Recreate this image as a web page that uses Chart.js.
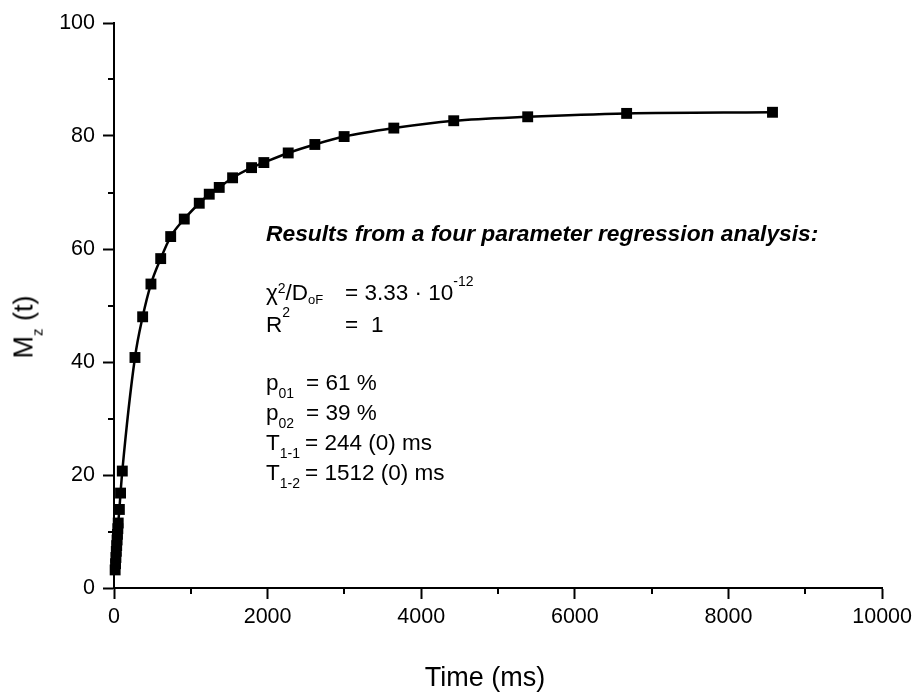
<!DOCTYPE html>
<html>
<head>
<meta charset="utf-8">
<script src="https://cdn.jsdelivr.net/npm/chart.js@4/dist/chart.umd.min.js"></script>
<style>
  body { margin: 0; background: #fff; }
  #wrap { position: relative; width: 917px; height: 694px; }
  #chart { position: absolute; left: 0; top: 0; }
  .txt { position: absolute; font-family: "Liberation Sans", Arial, sans-serif; color: #000; white-space: pre; }
  .note { font-size: 22.5px; line-height: 22.5px; }
  .title { font-size: 27px; line-height: 27px; }
  .sub, .sup { position: relative; font-size: 14px; line-height: 0; }
</style>
</head>
<body>
<div id="wrap">
  <canvas id="chart" width="917" height="694"></canvas>

  <div class="txt title" id="xTitle" style="left:485px; top:664px; transform:translateX(-50%);">Time (ms)</div>
  <div class="txt title" id="yTitle" style="left:24px; top:327px; transform:translate(-50%,-50%) rotate(-90deg);">M<span class="sub" style="font-size:15px; top:10px;">z</span> (t)</div>

  <div class="txt note" style="left:266px; top:222px; font-weight:bold; font-style:italic; font-size:22.8px;">Results from a four parameter regression analysis:</div>

  <div class="txt note" style="left:266px; top:282px;">χ<span class="sup" style="top:-7px;">2</span>/D<span class="sub" style="font-size:13px; top:4px;">oF</span></div>
  <div class="txt note" style="left:345px; top:282px;">= 3.33 · 10<span class="sup" style="top:-14px;">-12</span></div>

  <div class="txt note" style="left:266px; top:313.5px;">R<span class="sup" style="top:-15px;">2</span></div>
  <div class="txt note" style="left:345px; top:313.5px;">=</div>
  <div class="txt note" style="left:371px; top:313.5px;">1</div>

  <div class="txt note" style="left:266px; top:372px;">p<span class="sub" style="top:8px;">01</span></div>
  <div class="txt note" style="left:306px; top:372px;">= 61 %</div>

  <div class="txt note" style="left:266px; top:402px;">p<span class="sub" style="top:8px;">02</span></div>
  <div class="txt note" style="left:306px; top:402px;">= 39 %</div>

  <div class="txt note" style="left:266px; top:432px;">T<span class="sub" style="top:8px;">1-1</span></div>
  <div class="txt note" style="left:305px; top:432px;">= 244 (0) ms</div>

  <div class="txt note" style="left:266px; top:462px;">T<span class="sub" style="top:8px;">1-2</span></div>
  <div class="txt note" style="left:305px; top:462px;">= 1512 (0) ms</div>
</div>

<script>
const times = [15, 20, 25, 30, 35, 40, 45, 50, 55, 70, 85, 108,
               273, 373, 481, 608, 738, 915, 1110, 1240, 1370, 1544,
               1791, 1951, 2268, 2615, 2996, 3643, 4423, 5386, 6674, 8573];
const mz    = [3.2, 4.3, 5.4, 6.5, 7.5, 8.5, 9.5, 10.5, 11.5, 13.9, 16.8, 20.7,
               40.8, 48.0, 53.8, 58.3, 62.2, 65.3, 68.1, 69.7, 70.9, 72.6,
               74.4, 75.3, 77.0, 78.5, 79.9, 81.4, 82.7, 83.4, 84.0, 84.2];

// Axis ticks
const xMajor = [0, 2000, 4000, 6000, 8000, 10000];
const xMinor = [1000, 3000, 5000, 7000, 9000];
const yMajor = [0, 20, 40, 60, 80, 100];
const yMinor = [10, 30, 50, 70, 90];

const FONT = '"Liberation Sans", Arial, sans-serif';

// Short unlabeled ticks between the labeled ones
const minorTicks = {
  id: 'minorTicks',
  afterDraw(chart) {
    const { ctx, scales: { x, y } } = chart;
    ctx.save();
    ctx.strokeStyle = '#000';
    ctx.lineWidth = 2;
    ctx.beginPath();
    for (const v of xMinor) {
      const px = Math.round(x.getPixelForValue(v));
      ctx.moveTo(px, y.bottom);
      ctx.lineTo(px, y.bottom + 6);
    }
    for (const v of yMinor) {
      const py = Math.round(y.getPixelForValue(v));
      ctx.moveTo(x.left, py);
      ctx.lineTo(x.left - 6, py);
    }
    ctx.stroke();
    ctx.restore();
  },
};

new Chart(document.getElementById('chart'), {
  type: 'scatter',
  data: {
    datasets: [{
      label: 'M_z(t)',
      data: times.map((t, i) => ({ x: t, y: mz[i] })),
      showLine: true,
      cubicInterpolationMode: 'monotone',
      borderColor: '#000',
      borderWidth: 2.5,
      backgroundColor: '#000',
      pointStyle: 'rect',
      pointRadius: 7.7,
      pointBorderWidth: 0,
      clip: false,
    }],
  },
  options: {
    responsive: false,
    animation: false,
    devicePixelRatio: 1,
    layout: { padding: { top: 23, right: 34, bottom: 0, left: 0 } },
    plugins: { legend: { display: false }, tooltip: { enabled: false } },
    scales: {
      x: {
        type: 'linear',
        min: xMajor[0],
        max: xMajor[xMajor.length - 1],
        afterBuildTicks: s => { s.ticks = xMajor.map(v => ({ value: v })); },
        afterFit: s => { s.height = 106; },
        ticks: {
          callback: v => String(v),
          color: '#000',
          font: { family: FONT, size: 21.5 },
          padding: 5,
          maxRotation: 0,
          autoSkip: false,
        },
        grid: { display: true, drawOnChartArea: false, drawTicks: true, tickLength: 11, tickWidth: 2, tickColor: '#000' },
        border: { display: true, color: '#000', width: 2 },
      },
      y: {
        type: 'linear',
        min: yMajor[0],
        max: yMajor[yMajor.length - 1],
        afterBuildTicks: s => { s.ticks = yMajor.map(v => ({ value: v })); },
        afterFit: s => { s.width = 114; },
        ticks: {
          callback: v => String(v),
          color: '#000',
          font: { family: FONT, size: 21.5 },
          padding: 8,
        },
        grid: { display: true, drawOnChartArea: false, drawTicks: true, tickLength: 11, tickWidth: 2, tickColor: '#000' },
        border: { display: true, color: '#000', width: 2 },
      },
    },
  },
  plugins: [minorTicks],
});
</script>
</body>
</html>
